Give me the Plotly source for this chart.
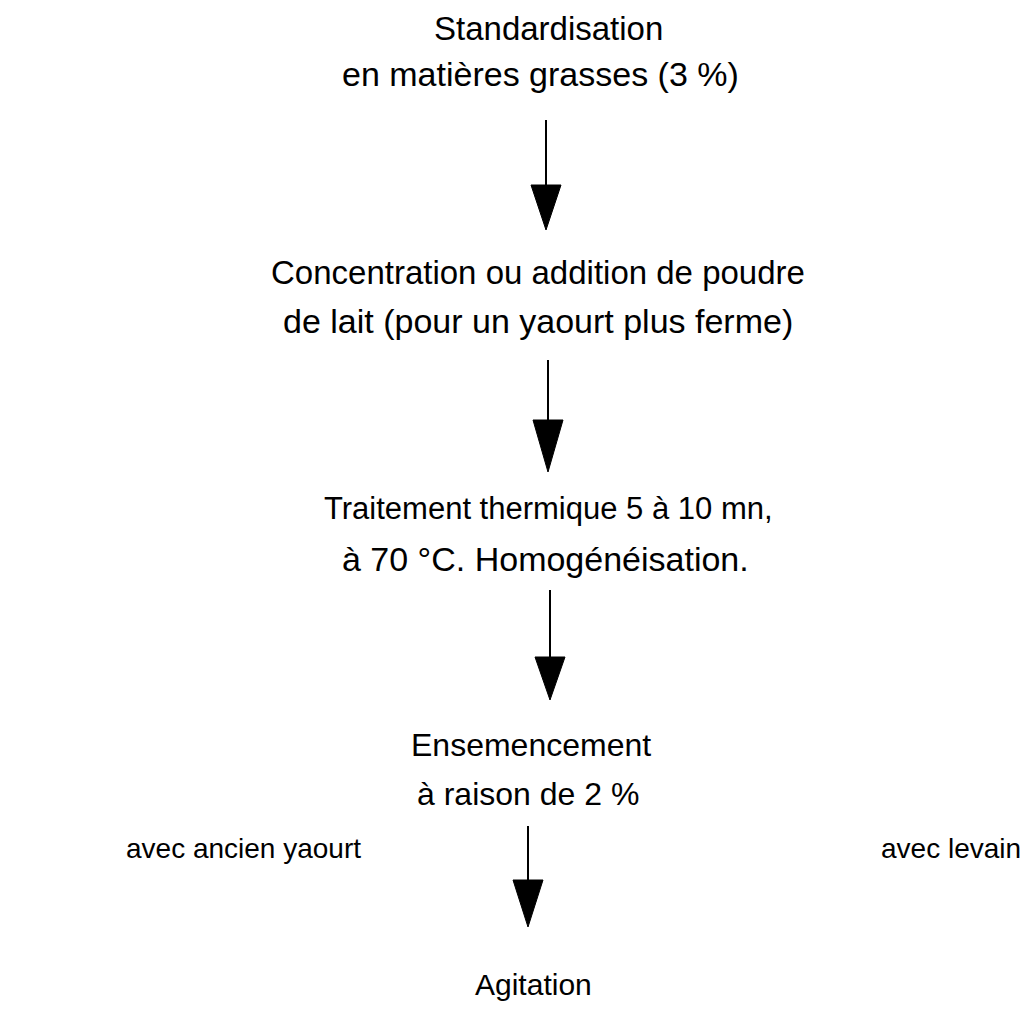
import plotly.graph_objects as go

# ---- content (flowchart text) ----
step_lines = [
    ["Standardisation", "en matières grasses (3 %)"],
    ["Concentration ou addition de poudre", "de lait (pour un yaourt plus ferme)"],
    ["Traitement thermique 5 à 10 mn,", "à 70 °C. Homogénéisation."],
    ["Ensemencement", "à raison de 2 %"],
    ["Agitation"],
]
side_labels = ["avec ancien yaourt", "avec levain"]

# ---- layout (page pixel coordinates) ----
PAGE_W, PAGE_H = 1030, 1011
OFF = 8  # default body margin of the html page
line_x = [[548, 540], [538, 538], [548, 545], [531, 528], [533]]
line_y = [[28, 74], [272, 321], [508, 559], [745, 794], [984]]
line_size = [[33, 34], [33, 34], [31, 34], [32, 32], [30]]
arrow_x = [546, 548, 550, 528]
arrow_top = [120, 360, 590, 826]
arrow_head = [185, 420, 657, 880]
arrow_tip = [230, 472, 700, 927]
head_half = 15
side_x = [125, 1022]
side_anchor = ["left", "right"]
side_y = [848, 848]
side_size = 28

FAMILY = "Liberation Sans, Arial, sans-serif"

fig = go.Figure()

# arrows: shaft + filled triangular head
for x, t, h, tip in zip(arrow_x, arrow_top, arrow_head, arrow_tip):
    fig.add_trace(go.Scatter(x=[x, x], y=[t, h + 2], mode="lines",
                             line=dict(color="black", width=2),
                             hoverinfo="skip", showlegend=False))
    fig.add_trace(go.Scatter(x=[x - head_half, x + head_half, x, x - head_half],
                             y=[h, h, tip, h], mode="lines", fill="toself",
                             fillcolor="black", line=dict(color="black", width=1),
                             hoverinfo="skip", showlegend=False))

annotations = []
for lines, xs, ys, ss in zip(step_lines, line_x, line_y, line_size):
    for txt, x, y, s in zip(lines, xs, ys, ss):
        annotations.append(dict(x=x, y=y, text=txt, showarrow=False,
                                xanchor="center", yanchor="middle", borderpad=0,
                                font=dict(family=FAMILY, size=s, color="black")))
for txt, x, y, a in zip(side_labels, side_x, side_y, side_anchor):
    annotations.append(dict(x=x, y=y, text=txt, showarrow=False,
                            xanchor=a, yanchor="middle", borderpad=0,
                            font=dict(family=FAMILY, size=side_size, color="black")))

fig.update_layout(
    width=PAGE_W - OFF, height=PAGE_H - OFF,
    margin=dict(l=0, r=0, t=0, b=0),
    paper_bgcolor="white", plot_bgcolor="white",
    xaxis=dict(range=[OFF, PAGE_W], visible=False, fixedrange=True),
    yaxis=dict(range=[PAGE_H, OFF], visible=False, fixedrange=True),
    annotations=annotations,
    showlegend=False,
)

fig.write_html("out.html")
